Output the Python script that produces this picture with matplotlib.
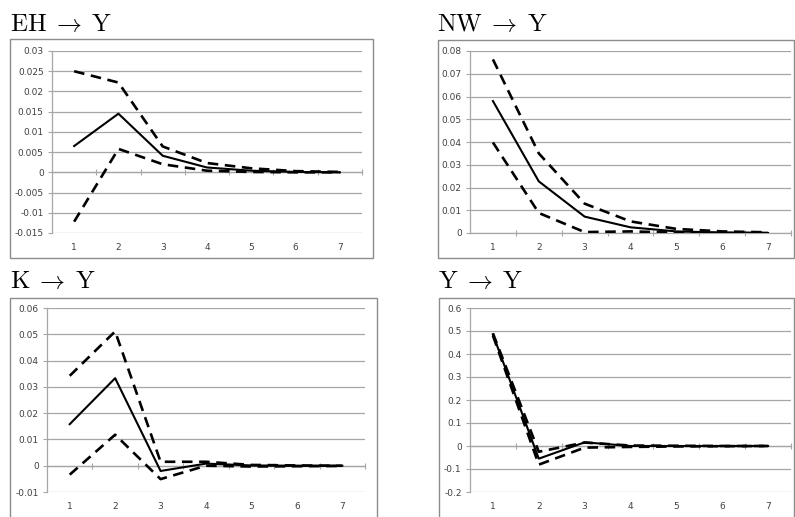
import matplotlib
matplotlib.use("Agg")
import matplotlib.pyplot as plt
from matplotlib.patches import Rectangle
from matplotlib.ticker import FuncFormatter

plt.rcParams["mathtext.fontset"] = "cm"

# ------------------------------------------------------------
# Daten (Impulsantworten, Perioden 1..7)
# ------------------------------------------------------------
periods = [1, 2, 3, 4, 5, 6, 7]

eh_mid = [0.0065, 0.0145, 0.0041, 0.0012, 0.0004, 0.0001, 0.0]
eh_up = [0.0250, 0.0222, 0.0064, 0.0023, 0.0010, 0.0003, 0.0001]
eh_lo = [-0.0122, 0.0058, 0.0020, 0.0004, 0.0001, 0.0, 0.0]

nw_mid = [0.0580, 0.0227, 0.0072, 0.0025, 0.0007, 0.0002, 0.0]
nw_up = [0.0763, 0.0350, 0.0129, 0.0051, 0.0018, 0.0007, 0.0003]
nw_lo = [0.0398, 0.0088, 0.0004, 0.0007, 0.0002, 0.0, 0.0]

k_mid = [0.0158, 0.0333, -0.0020, 0.0008, 0.0001, 0.0, 0.0]
k_up = [0.0342, 0.0511, 0.0015, 0.0015, 0.0003, 0.0001, 0.0]
k_lo = [-0.0034, 0.0118, -0.0051, 0.0, -0.0003, -0.0002, -0.0001]

y_mid = [0.485, -0.055, 0.016, 0.0, 0.0, 0.0, 0.0]
y_up = [0.490, -0.025, 0.015, 0.002, 0.001, 0.0, 0.0]
y_lo = [0.480, -0.081, -0.007, -0.004, -0.002, -0.001, 0.0]

titles = ["EH", "NW", "K", "Y"]
y_ticks = [
    [-0.015, -0.01, -0.005, 0, 0.005, 0.01, 0.015, 0.02, 0.025, 0.03],
    [0, 0.01, 0.02, 0.03, 0.04, 0.05, 0.06, 0.07, 0.08],
    [-0.01, 0, 0.01, 0.02, 0.03, 0.04, 0.05, 0.06],
    [-0.2, -0.1, 0, 0.1, 0.2, 0.3, 0.4, 0.5, 0.6],
]
series = [
    (eh_mid, eh_up, eh_lo),
    (nw_mid, nw_up, nw_lo),
    (k_mid, k_up, k_lo),
    (y_mid, y_up, y_lo),
]

# ------------------------------------------------------------
# Layout in Pixeln (x links, x rechts, y oben, y unten)
# ------------------------------------------------------------
W, H = 795, 517
plot_px = [(52, 362, 51, 233), (470, 791, 51, 233),
           (47, 365, 308, 492), (470, 791, 308, 492)]
box_px = [(10, 373, 39, 258), (438, 794, 40, 258),
          (10, 377, 298, 520), (439, 794, 298, 520)]
title_px = [(10, 31), (437, 31), (10, 288), (438, 288)]

GRID = "#a6a6a6"
TXT = "#404040"

fig = plt.figure(figsize=(W / 100, H / 100), dpi=100)

for i in range(4):
    # Rahmen um das Diagramm
    bx0, bx1, by0, by1 = box_px[i]
    fig.patches.append(Rectangle((bx0 / W, 1 - by1 / H), (bx1 - bx0) / W,
                                 (by1 - by0) / H, transform=fig.transFigure,
                                 fill=False, edgecolor="#8c8c8c", lw=1.0))

    tx, ty = title_px[i]
    fig.text(tx / W, 1 - ty / H,
             r"$\mathrm{" + titles[i] + r"}\;\rightarrow\;\mathrm{Y}$",
             fontsize=18, ha="left", va="baseline")

    x0, x1, y0, y1 = plot_px[i]
    ax = fig.add_axes([x0 / W, 1 - y1 / H, (x1 - x0) / W, (y1 - y0) / H])

    ticks = y_ticks[i]
    ymin, ymax = ticks[0], ticks[-1]
    ax.set_xlim(0.5, 7.5)
    ax.set_ylim(ymin, ymax)
    ax.set_yticks(ticks)
    ax.yaxis.set_major_formatter(FuncFormatter(lambda v, p: f"{v:g}"))
    ax.set_xticks(periods)
    ax.set_xticklabels([str(p) for p in periods])
    ax.tick_params(axis="x", length=0, pad=7, labelsize=6.5, labelcolor=TXT)
    ax.tick_params(axis="y", length=3, width=0.8, color=GRID, pad=3,
                   labelsize=6.5, labelcolor=TXT)

    for s in ["top", "right", "bottom"]:
        ax.spines[s].set_visible(False)
    ax.spines["left"].set_color(GRID)
    ax.spines["left"].set_linewidth(0.9)

    ax.grid(axis="y", color=GRID, lw=0.9)
    ax.set_axisbelow(True)

    # Kategorieachse bei y = 0 mit Teilstrichen zwischen den Kategorien
    frac = (0 - ymin) / (ymax - ymin)
    sec = ax.secondary_xaxis(frac)
    sec.set_xticks([p + 0.5 for p in periods])
    sec.set_xticklabels([])
    sec.tick_params(direction="inout", length=4, width=0.8, color=GRID)
    sec.spines["bottom"].set_color(GRID)
    sec.spines["bottom"].set_linewidth(0.9)

    mid, up, lo = series[i]
    ax.plot(periods, up, color="black", lw=1.9, ls=(0, (4, 2.5)))
    ax.plot(periods, lo, color="black", lw=1.9, ls=(0, (4, 2.5)))
    ax.plot(periods, mid, color="black", lw=1.5)

fig.savefig("out.png", dpi=100)
